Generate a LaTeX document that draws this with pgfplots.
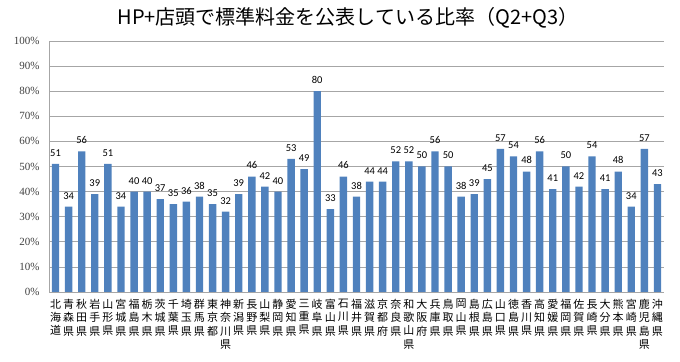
\documentclass[border=0pt]{standalone}
\usepackage{fontspec}
\setmainfont{Liberation Sans}
\newfontfamily\cjk{Noto Sans CJK JP}
\newfontfamily\serif{Liberation Serif}
\newfontfamily\lbl{Carlito}
\usepackage{pgfplots}
\pgfplotsset{compat=1.18}
\definecolor{barblue}{HTML}{4F81BD}
\definecolor{gridgray}{HTML}{A6A6A6}
\definecolor{txtgray}{HTML}{404040}
\begin{document}
\begin{tikzpicture}
\path (0,0) rectangle (680bp,362bp);
\node[font=\cjk\fontsize{20bp}{22bp}\selectfont, anchor=center] at (348bp,344bp) {HP+店頭で標準料金を公表している比率（Q2+Q3）};
\begin{axis}[at={(49bp,70bp)}, anchor=south west, scale only axis,
  width=615bp, height=251bp,
  xmin=-0.5, xmax=46.5, ymin=0, ymax=100,
  ybar, bar width=7.4bp,
  /pgf/number format/assume math mode=true,
  axis x line*=bottom, axis y line*=left,
  axis line style={gridgray},
  major tick length=0pt,
  ytick={0,10,...,100},
  yticklabel={\pgfmathprintnumber{\tick}\%},
  yticklabel style={font=\serif\fontsize{11bp}{13bp}\selectfont, text=txtgray, xshift=-6bp},
  ymajorgrids, grid style={gridgray, line width=0.8pt},
  xtick=data,
  xticklabels={{北\\海\\道},{青\\森\\県},{秋\\田\\県},{岩\\手\\県},{山\\形\\県},{宮\\城\\県},{福\\島\\県},{栃\\木\\県},{茨\\城\\県},{千\\葉\\県},{埼\\玉\\県},{群\\馬\\県},{東\\京\\都},{神\\奈\\川\\県},{新\\潟\\県},{長\\野\\県},{山\\梨\\県},{静\\岡\\県},{愛\\知\\県},{三\\重\\県},{岐\\阜\\県},{富\\山\\県},{石\\川\\県},{福\\井\\県},{滋\\賀\\県},{京\\都\\府},{奈\\良\\県},{和\\歌\\山\\県},{大\\阪\\府},{兵\\庫\\県},{鳥\\取\\県},{岡\\山\\県},{島\\根\\県},{広\\島\\県},{山\\口\\県},{徳\\島\\県},{香\\川\\県},{高\\知\\県},{愛\\媛\\県},{福\\岡\\県},{佐\\賀\\県},{長\\崎\\県},{大\\分\\県},{熊\\本\\県},{宮\\崎\\県},{鹿\\児\\島\\県},{沖\\縄\\県}},
  xticklabel style={font=\cjk\fontsize{11bp}{13.3bp}\selectfont, align=center, anchor=north, inner sep=0pt, yshift=-7bp, text=black},
  nodes near coords,
  nodes near coords style={font=\lbl\fontsize{10.5bp}{12bp}\selectfont, text=black, anchor=south, yshift=4bp},
]
\addplot[fill=barblue, draw=none] coordinates {
(0,51) (1,34) (2,56) (3,39) (4,51) (5,34) (6,40) (7,40) (8,37) (9,35)
(10,36) (11,38) (12,35) (13,32) (14,39) (15,46) (16,42) (17,40) (18,53) (19,49)
(20,80) (21,33) (22,46) (23,38) (24,44) (25,44) (26,52) (27,52) (28,50) (29,56)
(30,50) (31,38) (32,39) (33,45) (34,57) (35,54) (36,48) (37,56) (38,41) (39,50)
(40,42) (41,54) (42,41) (43,48) (44,34) (45,57) (46,43)};
\end{axis}
\end{tikzpicture}
\end{document}
